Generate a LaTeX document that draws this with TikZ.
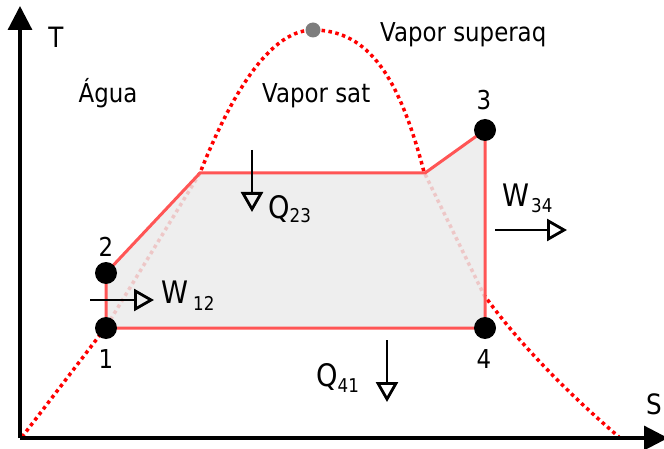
\documentclass[tikz,border=0pt]{standalone}
\usepackage{fontspec}
\setmainfont{DejaVu Sans}[FakeStretch=0.88]
\usetikzlibrary{arrows.meta}
\definecolor{cyc}{RGB}{255,85,85}
\definecolor{shadegray}{RGB}{235,235,235}
\definecolor{peakgray}{RGB}{125,125,125}
\newcommand{\fsReg}{\fontsize{26}{30}\selectfont}
\newcommand{\fsBig}{\fontsize{31}{36}\selectfont}
\newcommand{\fsSubs}{\fontsize{19}{22}\selectfont}
\begin{document}
\begin{tikzpicture}[x=1pt,y=-1pt,
  lbl/.style={inner sep=0pt, anchor=base, font=\fsReg},
  qlbl/.style={inner sep=0pt, anchor=base west, font=\fsBig},
  axis/.style={line width=3.2pt, -{Triangle[length=24pt,width=24pt]}},
  flow/.style={line width=2.8pt, -{Triangle[open,length=20pt,width=22pt]}},
  dome/.style={red, line width=3.5pt, dash pattern=on 3.5pt off 3.5pt},
  cycline/.style={cyc, line width=3pt, line join=miter},
  statept/.style={circle, fill=black, inner sep=0pt, minimum size=22pt}]
\useasboundingbox (0,0) rectangle (664,449);

% saturation dome
\coordinate (d0) at (22,437);
\coordinate (d1) at (106,327);
\coordinate (d2) at (200,173);
\coordinate (dtop) at (313,30);
\coordinate (d3) at (424,172);
\coordinate (d4) at (484,295);
\coordinate (d5) at (619,437);
\draw[dome] (d0) -- (d1) -- (d2) .. controls (225,110) and (265,30) .. (dtop)
  .. controls (370,30) and (400,80) .. (d3) -- (d4)
  .. controls (520,345) and (570,395) .. (d5);
\node[circle, fill=peakgray, inner sep=0pt, minimum size=15pt] (peak) at (dtop) {};

% axes
\coordinate (origin) at (20,438);
\coordinate (ytip) at (20,6);
\coordinate (xtip) at (668,438);
\draw[axis] (origin) -- (ytip);
\draw[axis] (origin) -- (xtip);
\node[lbl, font=\fontsize{28}{32}\selectfont] (T) at (56,48) {T};
\node[lbl, font=\fontsize{28}{32}\selectfont] (S) at (654,414) {S};

% state points
\coordinate (p1) at (106,328);
\coordinate (p2) at (106,273);
\coordinate (a) at (200,173);
\coordinate (b) at (425,173);
\coordinate (p3) at (485,130);
\coordinate (p4) at (485,328);

\fill[shadegray, opacity=0.85] (p1) -- (p2) -- (a) -- (b) -- (p3) -- (p4) -- cycle;
\draw[cycline] (p1) -- (p2) -- (a) -- (b) -- (p3) -- (p4) -- cycle;

\node[statept] (n1) at (p1) {};
\node[statept] (n2) at (p2) {};
\node[statept] (n3) at (p3) {};
\node[statept] (n4) at (p4) {};
\node[lbl] (l1) at (106,368) {1};
\node[lbl] (l2) at (106,257) {2};
\node[lbl] (l3) at (484,110) {3};
\node[lbl] (l4) at (484,368) {4};

% region labels
\node[lbl] (agua) at (108,103) {Água};
\node[lbl, anchor=base west] (vsat) at (262,103) {Vapor sat};
\node[lbl, anchor=base west] (vsup) at (380,42) {Vapor superaq};

% heat and work arrows
\coordinate (w12s) at (90,300);
\coordinate (w12e) at (154,300);
\draw[flow] (w12s) -- (w12e);
\node[qlbl] (w12) at (161,303) {W\hspace{5pt}\raisebox{-7pt}{\fsSubs 12}};

\coordinate (w34s) at (495,230);
\coordinate (w34e) at (567,230);
\draw[flow] (w34s) -- (w34e);
\node[qlbl] (w34) at (502,207) {W\hspace{2pt}\raisebox{-6pt}{\fsSubs 34}};

\coordinate (q23s) at (252,150);
\coordinate (q23e) at (252,212);
\draw[flow] (q23s) -- (q23e);
\node[qlbl] (q23) at (268,219) {Q\raisebox{-4pt}{\fsSubs 23}};

\coordinate (q41s) at (387,340);
\coordinate (q41e) at (387,402);
\draw[flow] (q41s) -- (q41e);
\node[qlbl] (q41) at (316,386) {Q\raisebox{-6pt}{\fsSubs 41}};
\end{tikzpicture}
\end{document}
